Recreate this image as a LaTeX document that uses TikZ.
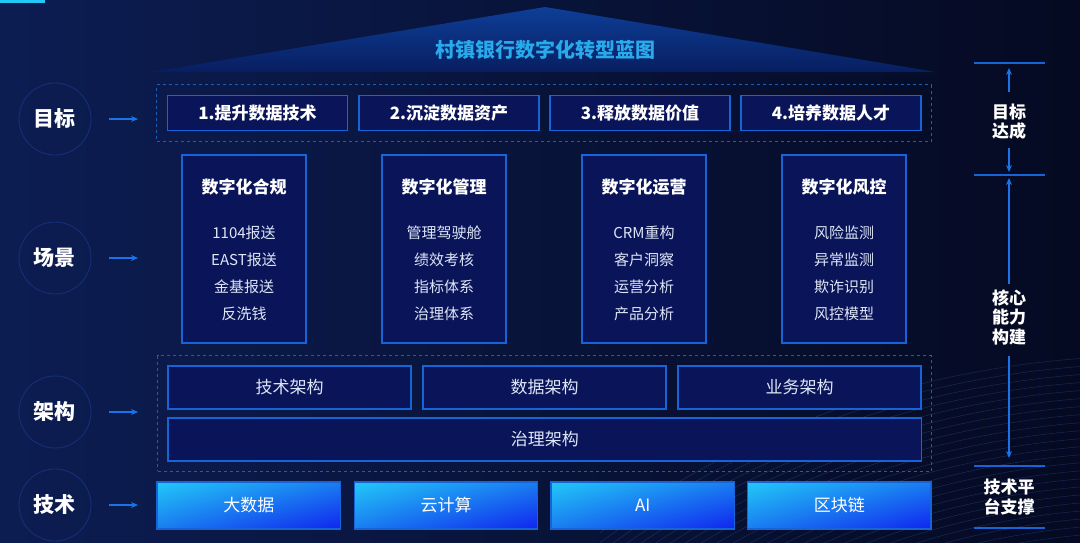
\documentclass[tikz,border=0pt]{standalone}
\usepackage{fontspec}
\setmainfont{Noto Sans CJK SC}
\usepackage{tikz}
\usetikzlibrary{positioning,fit,arrows.meta,shadings}

\definecolor{bgleft}{RGB}{12,29,82}
\definecolor{bgright}{RGB}{5,10,34}
\definecolor{boxfill}{RGB}{10,20,88}
\definecolor{boxedge}{RGB}{22,100,215}
\definecolor{frameedge}{RGB}{26,95,180}
\definecolor{arrowblue}{RGB}{26,115,232}
\definecolor{titlecyan}{RGB}{40,170,235}
\definecolor{titletop}{RGB}{14,62,152}
\definecolor{titlebottom}{RGB}{8,30,96}
\definecolor{itemgrey}{RGB}{222,230,247}
\definecolor{techcyan}{RGB}{34,200,248}
\definecolor{techmid}{RGB}{26,125,240}
\definecolor{techblue}{RGB}{16,36,240}
\definecolor{ringblue}{RGB}{22,46,118}
\definecolor{wavecolor}{RGB}{70,120,210}

\begin{document}
\begin{tikzpicture}[x=1pt, y=-1pt,
    goalbox/.style={draw=boxedge, fill=boxfill, line width=1.1pt, minimum width=180pt,
        minimum height=35pt, inner sep=0pt, text=white, font=\fontsize{17}{20}\selectfont\bfseries},
    scenebox/.style={draw=boxedge, fill=boxfill, line width=1.1pt, minimum width=124pt,
        minimum height=188pt, inner sep=0pt},
    scenehead/.style={inner sep=0pt, text=white, font=\fontsize{17}{20}\selectfont\bfseries},
    sceneitems/.style={inner sep=0pt, align=center, text=itemgrey, font=\fontsize{15}{27}\selectfont},
    archbox/.style={draw=boxedge, fill=boxfill, line width=1.1pt, minimum width=243pt,
        minimum height=43pt, inner sep=0pt, text=itemgrey, font=\fontsize{17}{20}\selectfont},
    techbox/.style={draw=boxedge, line width=1.1pt, upper left=techcyan, upper right=techmid,
        lower left=techmid, lower right=techblue, minimum width=183.5pt, minimum height=47pt,
        inner sep=0pt, text=white, font=\fontsize{17}{20}\selectfont},
    dashframe/.style={draw=frameedge, dashed, line width=1pt, inner sep=10pt},
    layercircle/.style={circle, draw=ringblue, line width=0.9pt, minimum size=72pt, inner sep=0pt,
        text=white, font=\fontsize{21}{24}\selectfont\bfseries},
    sidearrow/.style={-{Stealth[length=7pt,width=6pt]}, draw=arrowblue, fill=arrowblue, line width=1.2pt},
    sideline/.style={draw=boxedge, line width=1.2pt},
    sidetext/.style={inner sep=0pt, align=center, text=white, font=\fontsize{17}{19.5}\selectfont\bfseries},
    wave/.style={draw=wavecolor, opacity=0.28, line width=0.5pt}]

    % Background
    \shade[left color=bgleft, right color=bgright] (0,0) rectangle (1080,542);
    \fill[techcyan] (0,0) rectangle (45,2.5);
    \begin{scope}
        \clip (600,330) rectangle (1080,542);
        \foreach \r in {760,768,...,950} \draw[wave] (1150,1300) circle (\r);
    \end{scope}

    % Title
    \shade[top color=titletop, bottom color=titlebottom] (151,72) -- (545,7) -- (936,72) -- cycle;
    \node (title) [text=titlecyan, font=\fontsize{20}{24}\selectfont\bfseries] at (545,50) {村镇银行数字化转型蓝图};

    % Layer circles
    \node (goal) [layercircle] at (55,119) {目标};
    \node (scene) [layercircle] at (55,258) {场景};
    \node (arch) [layercircle] at (55,412) {架构};
    \node (tech) [layercircle] at (55,505) {技术};

    % Goals
    \node (goal1) [goalbox] at (257.5,113) {1.提升数据技术};
    \node (goal2) [goalbox] at (449,113) {2.沉淀数据资产};
    \node (goal3) [goalbox] at (640,113) {3.释放数据价值};
    \node (goal4) [goalbox] at (831,113) {4.培养数据人才};
    \node (goalframe) [dashframe, fit=(goal1) (goal4)] {};

    % Scenes
    \node (comply) [scenebox] at (244,249) {};
    \node (manage) [scenebox] at (444,249) {};
    \node (operate) [scenebox] at (644,249) {};
    \node (risk) [scenebox] at (844,249) {};
    \node (complyhead) [scenehead] at ([yshift=-33pt]comply.north) {数字化合规};
    \node (managehead) [scenehead] at ([yshift=-33pt]manage.north) {数字化管理};
    \node (operatehead) [scenehead] at ([yshift=-33pt]operate.north) {数字化运营};
    \node (riskhead) [scenehead] at ([yshift=-33pt]risk.north) {数字化风控};
    \node (complyitems) [sceneitems] at ([yshift=-24.5pt]comply.center) {1104报送\\EAST报送\\金基报送\\反洗钱};
    \node (manageitems) [sceneitems] at ([yshift=-24.5pt]manage.center) {管理驾驶舱\\绩效考核\\指标体系\\治理体系};
    \node (operateitems) [sceneitems] at ([yshift=-24.5pt]operate.center) {CRM重构\\客户洞察\\运营分析\\产品分析};
    \node (riskitems) [sceneitems] at ([yshift=-24.5pt]risk.center) {风险监测\\异常监测\\欺诈识别\\风控模型};

    % Architecture
    \node (techarch) [archbox] at (289.5,387.5) {技术架构};
    \node (dataarch) [archbox] at (544.5,387.5) {数据架构};
    \node (bizarch) [archbox] at (799.5,387.5) {业务架构};
    \node (govarch) [archbox, minimum width=753.5pt] at (544.75,439.5) {治理架构};
    \node (archframe) [dashframe, inner sep=9.5pt, fit=(techarch) (bizarch) (govarch)] {};

    % Technology
    \node (bigdata) [techbox] at (248.75,505.5) {大数据};
    \node (cloud) [techbox] at (446,505.5) {云计算};
    \node (ai) [techbox] at (642.75,505.5) {AI};
    \node (chain) [techbox] at (839.25,505.5) {区块链};

    % Arrows from the circles
    \coordinate (goalin) at (138,119);
    \coordinate (scenein) at (138,258);
    \coordinate (archin) at (138,412);
    \coordinate (techin) at (138,505);
    \draw[sidearrow, shorten <=18pt] (goal) -- (goalin);
    \draw[sidearrow, shorten <=18pt] (scene) -- (scenein);
    \draw[sidearrow, shorten <=18pt] (arch) -- (archin);
    \draw[sidearrow, shorten <=18pt] (tech) -- (techin);

    % Right column
    \node (reach) [sidetext] at (1009,121.5) {目标\\达成};
    \node (core) [sidetext] at (1009,317) {核心\\能力\\构建};
    \node (support) [sidetext] at (1009,497) {技术平\\台支撑};
    \coordinate (rl1) at (1009,63);
    \coordinate (rl2) at (1009,175);
    \coordinate (rl3) at (1009,466);
    \coordinate (rl4) at (1009,528);
    \draw[sideline] ([xshift=-35pt]rl1) -- ([xshift=36pt]rl1);
    \draw[sideline] ([xshift=-35pt]rl2) -- ([xshift=36pt]rl2);
    \draw[sideline] ([xshift=-35pt]rl3) -- ([xshift=36pt]rl3);
    \draw[sideline] ([xshift=-35pt]rl4) -- ([xshift=36pt]rl4);
    \draw[sidearrow, shorten <=11pt, shorten >=5pt] (reach.north) -- (rl1);
    \draw[sidearrow, shorten <=8pt, shorten >=3pt] (reach.south) -- (rl2);
    \draw[sidearrow, shorten <=5pt, shorten >=3pt] (core.north) -- (rl2);
    \draw[sidearrow, shorten <=11pt, shorten >=8pt] (core.south) -- (rl3);

\end{tikzpicture}
\end{document}
